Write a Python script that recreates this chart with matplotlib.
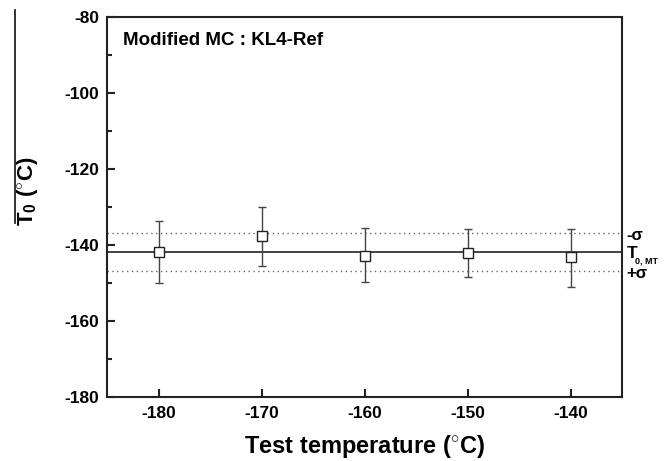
import matplotlib
matplotlib.use('Agg')
import matplotlib.pyplot as plt
from matplotlib.lines import Line2D
import numpy as np

plt.rcParams['font.family'] = 'Liberation Sans'
plt.rcParams['axes.unicode_minus'] = False
plt.rcParams['mathtext.fontset'] = 'custom'
plt.rcParams['mathtext.rm'] = 'Liberation Sans:bold'
plt.rcParams['mathtext.bf'] = 'Liberation Sans:bold'
plt.rcParams['mathtext.it'] = 'Liberation Sans:bold'

# data
test_temp = np.array([-180, -170, -160, -150, -140])
t0 = np.array([-141.8, -137.6, -142.9, -142.1, -143.3])
err_top = np.array([-133.6, -130.0, -135.6, -135.9, -135.8])
err_bot = np.array([-150.0, -145.6, -149.9, -148.6, -151.0])

t0_mt = -142.0
sigma = 5.0

fig = plt.figure(figsize=(6.68, 4.61), dpi=100)
ax = fig.add_axes([0.1606, 0.1395, 0.7705, 0.8236])

# reference lines
ax.axhline(t0_mt, color='#222222', lw=1.2, zorder=1)
ax.axhline(t0_mt + sigma, color='#666666', lw=1.0, ls=(0, (1, 2.5)), zorder=1)
ax.axhline(t0_mt - sigma, color='#666666', lw=1.0, ls=(0, (1, 2.5)), zorder=1)

yerr = np.vstack([t0 - err_bot, err_top - t0])
ax.errorbar(test_temp, t0, yerr=yerr, fmt='s', ms=6.5, mfc='white', mec='#222222',
            mew=1.0, ecolor='#444444', elinewidth=1.0, capsize=3, capthick=1.0, zorder=3)

ax.set_xlim(-185, -135)
ax.set_ylim(-180, -80)
ax.set_xticks(test_temp)
ax.set_yticks(np.arange(-180, -79, 20))
ax.set_yticks(np.arange(-170, -80, 20), minor=True)

for s in ax.spines.values():
    s.set_linewidth(1.5)
    s.set_color('#222222')

ax.tick_params(axis='both', which='major', direction='in', length=6, width=1.5,
               labelsize=12.5, top=False, right=False, color='#222222')
ax.tick_params(axis='y', which='minor', direction='in', length=3.5, width=1.5,
               right=False, color='#222222')
ax.tick_params(axis='y', pad=6)
ax.tick_params(axis='x', pad=7)
for lab in ax.get_xticklabels() + ax.get_yticklabels():
    lab.set_fontweight('bold')

ax.set_xlabel('Test temperature ($^{\\circ}$C)', fontsize=17, fontweight='bold', labelpad=8)

ax.text(0.03, 0.939, 'Modified MC : KL4-Ref', transform=ax.transAxes,
        fontsize=13.5, fontweight='bold', va='center', ha='left')

# labels on the right of the plot
trans = ax.get_yaxis_transform()
ax.text(1.009, t0_mt + sigma - 0.6, '-σ', transform=trans, fontsize=12, va='center',
        ha='left', clip_on=False, fontweight='bold')
ax.text(1.009, t0_mt - 0.2, 'T', transform=trans, fontsize=12.5,
        va='center', ha='left', clip_on=False, fontweight='bold')
ax.text(1.026, t0_mt - 2.2, '0, MT', transform=trans, fontsize=6.5,
        va='center', ha='left', clip_on=False, fontweight='bold')
ax.text(1.009, t0_mt - sigma - 0.6, '+σ', transform=trans, fontsize=12, va='center',
        ha='left', clip_on=False, fontweight='bold')

# y label with its long overline
fig.text(27 / 668, 1 - 191 / 461, 'T$_0$ ($^{\\circ}$C)', rotation=90, fontsize=16,
         fontweight='bold', ha='center', va='center')
fig.add_artist(Line2D([15 / 668, 15 / 668], [1 - 10 / 461, 1 - 223 / 461],
                      color='#222222', lw=1.3, transform=fig.transFigure))

fig.savefig('out.png', dpi=100)
